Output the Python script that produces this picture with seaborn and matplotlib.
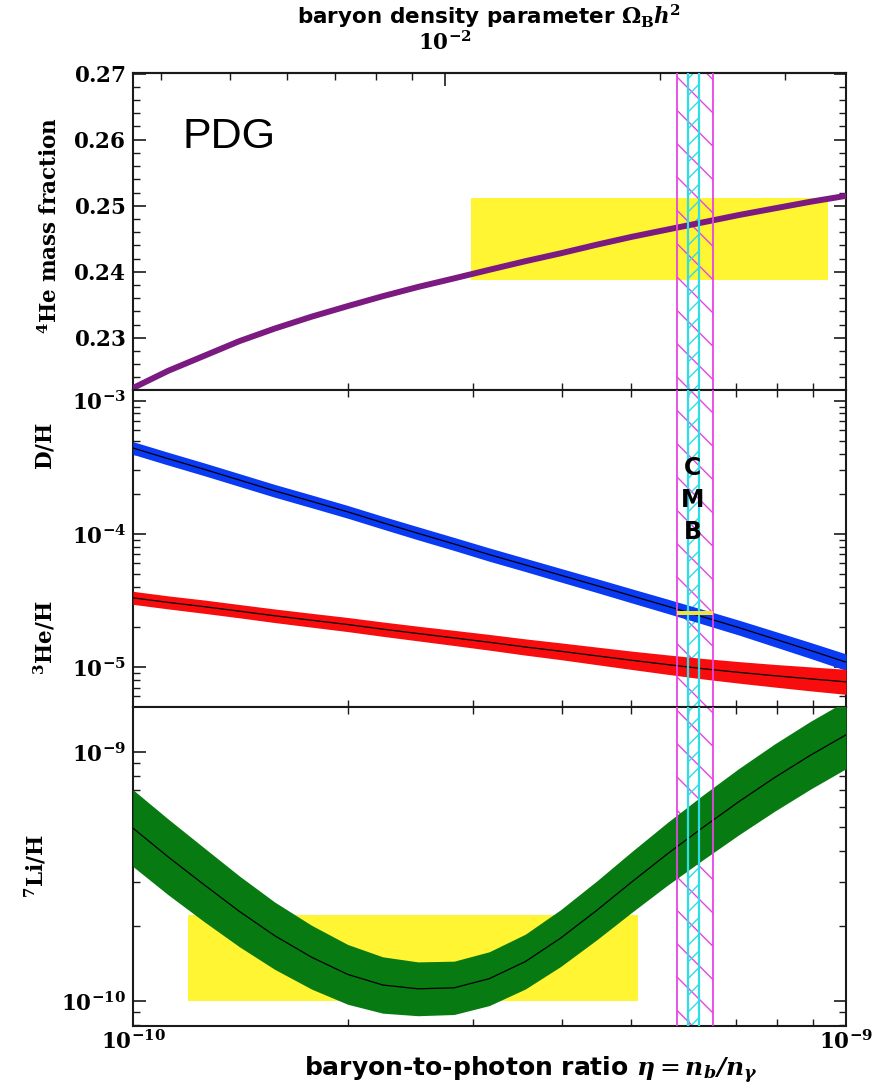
import numpy as np
import pandas as pd
import matplotlib
matplotlib.use("Agg")
import matplotlib.pyplot as plt
import seaborn as sns
from matplotlib.ticker import MultipleLocator, FuncFormatter, NullFormatter, LogLocator, FixedLocator
from matplotlib.mathtext import MathTextParser

# ---------------- data ----------------
eta10 = [1.00, 1.12, 1.26, 1.41, 1.58, 1.78, 2.00, 2.24, 2.51, 2.82, 3.16,
         3.55, 3.98, 4.47, 5.01, 5.62, 6.31, 7.08, 7.94, 8.91, 10.0]
he4_mass_fraction = [0.2224, 0.2250, 0.2273, 0.2295, 0.2314, 0.2332, 0.2348, 0.2363, 0.2377, 0.2390, 0.2403,
                     0.2416, 0.2428, 0.2441, 0.2453, 0.2464, 0.2475, 0.2486, 0.2496, 0.2506, 0.2515]
dh_ratio = [4.40e-4, 3.66e-4, 3.04e-4, 2.53e-4, 2.10e-4, 1.75e-4, 1.46e-4, 1.21e-4, 1.007e-4, 8.38e-5, 6.97e-5,
            5.83e-5, 4.88e-5, 4.08e-5, 3.41e-5, 2.85e-5, 2.37e-5, 1.97e-5, 1.62e-5, 1.33e-5, 1.085e-5]
dh_halfwidth_dex = [0.048, 0.048, 0.048, 0.048, 0.048, 0.048, 0.048, 0.048, 0.049, 0.049, 0.050,
                    0.050, 0.051, 0.052, 0.053, 0.054, 0.055, 0.056, 0.058, 0.060, 0.062]
he3_ratio = [3.30e-5, 3.05e-5, 2.83e-5, 2.62e-5, 2.42e-5, 2.24e-5, 2.08e-5, 1.92e-5, 1.78e-5, 1.65e-5, 1.53e-5,
             1.41e-5, 1.31e-5, 1.21e-5, 1.12e-5, 1.04e-5, 9.68e-6, 9.09e-6, 8.58e-6, 8.13e-6, 7.72e-6]
he3_halfwidth_dex = [0.049, 0.049, 0.050, 0.050, 0.051, 0.052, 0.053, 0.054, 0.055, 0.057, 0.059,
                     0.061, 0.063, 0.066, 0.069, 0.073, 0.077, 0.081, 0.085, 0.090, 0.094]
li7_ratio = [4.94e-10, 3.79e-10, 2.92e-10, 2.29e-10, 1.83e-10, 1.50e-10, 1.28e-10, 1.16e-10, 1.12e-10, 1.13e-10,
             1.23e-10, 1.44e-10, 1.79e-10, 2.31e-10, 3.01e-10, 3.90e-10, 4.99e-10, 6.32e-10, 7.88e-10,
             9.68e-10, 1.17e-9]
li7_halfwidth_dex = [0.154, 0.152, 0.148, 0.142, 0.135, 0.128, 0.120, 0.113, 0.108, 0.107, 0.108,
                     0.110, 0.114, 0.118, 0.122, 0.126, 0.130, 0.133, 0.135, 0.136, 0.136]

he4_obs_eta = [2.98e-10, 9.44e-10]
he4_obs_range = [0.2388, 0.2511]
dh_obs_eta = [5.79e-10, 6.51e-10]
dh_obs_range = [2.47e-5, 2.63e-5]
li7_obs_eta = [1.194e-10, 5.11e-10]
li7_obs_range = [1.0e-10, 2.22e-10]
cmb_wide_eta = [5.79e-10, 6.51e-10]
cmb_narrow_eta = [6.00e-10, 6.22e-10]
eta_per_omega = 2.739e-8   # eta = 2.739e-8 * Omega_B h^2
omega_major_ticks = [1e-2]
omega_minor_ticks = [4e-3, 5e-3, 6e-3, 7e-3, 8e-3, 9e-3, 2e-2, 3e-2]
eta_major_ticks = [1e-10, 1e-9]
eta_minor_ticks = [2e-10, 3e-10, 4e-10, 5e-10, 6e-10, 7e-10, 8e-10, 9e-10]

# ---------------- styling ----------------
sns.set_theme(style="ticks")
plt.rcParams.update({
    "font.family": ["DejaVu Sans"],
    "mathtext.fontset": "dejavuserif",
    "text.color": "black",
    "axes.linewidth": 1.5,
    "axes.edgecolor": "#1a1a1a",
    "xtick.direction": "in", "ytick.direction": "in",
    "xtick.major.size": 9, "ytick.major.size": 9,
    "xtick.minor.size": 5, "ytick.minor.size": 5,
    "xtick.major.width": 1.2, "ytick.major.width": 1.2,
    "xtick.minor.width": 1.0, "ytick.minor.width": 1.0,
    "xtick.color": "#1a1a1a", "ytick.color": "#1a1a1a",
    "xtick.labelcolor": "black", "ytick.labelcolor": "black",
    "hatch.linewidth": 1.0,
})


def safe_math(s, fallback):
    try:
        MathTextParser("path").parse(s, dpi=100)
        return s
    except Exception:
        return fallback


PURPLE = "#7b1a80"
BLUE = "#0a3af2"
RED = "#f70d0d"
GREEN = "#087a12"
YELLOW = "#fff533"
MAGENTA = "#e445e4"
CYAN = "#2fdde6"
TICKFS = 15.5

df = pd.DataFrame({
    "eta": np.array(eta10) * 1e-10,
    "he4": he4_mass_fraction,
    "dh": dh_ratio, "dh_w": dh_halfwidth_dex,
    "he3": he3_ratio, "he3_w": he3_halfwidth_dex,
    "li7": li7_ratio, "li7_w": li7_halfwidth_dex,
})

W, H = 877, 1088
fig = plt.figure(figsize=(W / 100, H / 100), dpi=100)
L = 133 / W
AW = (846 - 133) / W
ax1 = fig.add_axes([L, 1 - 390 / H, AW, 317 / H])
ax2 = fig.add_axes([L, 1 - 706.5 / H, AW, 316.5 / H])
ax3 = fig.add_axes([L, 1 - 1025.5 / H, AW, 319 / H])

bold_num = FuncFormatter(lambda v, p: r"$\mathbf{%.2f}$" % v)


def log_fmt(v, p):
    e = int(round(np.log10(v)))
    return r"$\mathbf{10^{%d}}$" % e


log_formatter = FuncFormatter(log_fmt)

for ax in (ax1, ax2, ax3):
    ax.set_xscale("log")
    ax.set_xlim(1e-10, 1e-9)
    ax.xaxis.set_major_locator(FixedLocator(eta_major_ticks))
    ax.xaxis.set_minor_locator(FixedLocator(eta_minor_ticks))
    ax.xaxis.set_minor_formatter(NullFormatter())
    # CMB bands
    ax.axvspan(*cmb_wide_eta, facecolor="none", edgecolor=MAGENTA, hatch="\\", lw=0, zorder=2)
    ax.axvspan(*cmb_narrow_eta, facecolor="none", edgecolor=CYAN, hatch="//", lw=0, zorder=2)
    for xv in cmb_wide_eta:
        ax.axvline(xv, color=MAGENTA, lw=1.3, zorder=4)
    for xv in cmb_narrow_eta:
        ax.axvline(xv, color=CYAN, lw=1.6, zorder=4)
    ax.tick_params(which="both", right=True, top=True, labelsize=TICKFS)
    ax.tick_params(axis="y", which="major", pad=5)

# ---- Panel 1: He-4 ----
ax1.fill_between(he4_obs_eta, he4_obs_range[0], he4_obs_range[1], color=YELLOW, lw=0, zorder=1)
sns.lineplot(data=df, x="eta", y="he4", ax=ax1, color=PURPLE, lw=4.3, estimator=None, zorder=3)
ax1.set_ylim(0.2221, 0.2701)
ax1.yaxis.set_major_locator(MultipleLocator(0.01))
ax1.yaxis.set_minor_locator(MultipleLocator(0.002))
ax1.yaxis.set_major_formatter(bold_num)
ax1.tick_params(top=False, which="both")
ax1.tick_params(labelbottom=False)
ax1.text(1.175e-10, 0.2587, "PDG", fontsize=31, family=["Liberation Sans", "DejaVu Sans"],
         va="baseline", ha="left", color="black")

sec = ax1.secondary_xaxis("top", functions=(lambda e: e / eta_per_omega, lambda o: o * eta_per_omega))
sec.xaxis.set_major_locator(FixedLocator(omega_major_ticks))
sec.xaxis.set_minor_locator(FixedLocator(omega_minor_ticks))
sec.xaxis.set_major_formatter(log_formatter)
sec.xaxis.set_minor_formatter(NullFormatter())
sec.tick_params(which="both", direction="in", labelsize=TICKFS, pad=14, labelcolor="black")
sec.tick_params(which="major", length=9, width=1.2)
sec.tick_params(which="minor", length=5, width=1.0)

# ---- Panel 2: D/H and He-3/H ----
for col, wcol, colr in (("dh", "dh_w", BLUE), ("he3", "he3_w", RED)):
    lo = df[col] * 10 ** (-df[wcol])
    hi = df[col] * 10 ** (df[wcol])
    ax2.fill_between(df["eta"], lo, hi, color=colr, lw=0, zorder=3)
    sns.lineplot(data=df, x="eta", y=col, ax=ax2, color="black", lw=0.9, estimator=None, zorder=3.5)
ax2.fill_between(dh_obs_eta, dh_obs_range[0], dh_obs_range[1], color="#f2e33a", lw=0, zorder=4.5)
ax2.set_yscale("log")
ax2.set_ylim(5.04e-6, 1.2e-3)
ax2.yaxis.set_major_locator(LogLocator(base=10))
ax2.yaxis.set_minor_locator(LogLocator(base=10, subs=np.arange(2, 10)))
ax2.yaxis.set_major_formatter(log_formatter)
ax2.yaxis.set_minor_formatter(NullFormatter())
ax2.tick_params(labelbottom=False)
ax2.text(6.1e-10, 1.8e-4, "C\nM\nB", ha="center", va="center", fontsize=17, color="black",
         fontweight="bold", linespacing=1.42, zorder=6)

# ---- Panel 3: Li-7/H ----
ax3.fill_between(li7_obs_eta, li7_obs_range[0], li7_obs_range[1], color=YELLOW, lw=0, zorder=1)
lo = df["li7"] * 10 ** (-df["li7_w"])
hi = df["li7"] * 10 ** (df["li7_w"])
ax3.fill_between(df["eta"], lo, hi, color=GREEN, lw=0, zorder=3)
sns.lineplot(data=df, x="eta", y="li7", ax=ax3, color="black", lw=0.9, estimator=None, zorder=3.5)
ax3.set_yscale("log")
ax3.set_ylim(7.98e-11, 1.52e-9)
ax3.yaxis.set_major_locator(LogLocator(base=10))
ax3.yaxis.set_minor_locator(LogLocator(base=10, subs=np.arange(2, 10)))
ax3.yaxis.set_major_formatter(log_formatter)
ax3.yaxis.set_minor_formatter(NullFormatter())
ax3.xaxis.set_major_formatter(log_formatter)
ax3.tick_params(axis="x", which="major", pad=3)

for ax in (ax1, ax2, ax3):
    ax.set_xlabel("")
    ax.set_ylabel("")
    ax.xaxis.label.set_visible(False)
    ax.yaxis.label.set_visible(False)

# ---- labels ----
YLFS = 15.5
fig.text(49 / W, 1 - 226 / H, r"$^{\mathbf{4}}\mathbf{He\ mass\ fraction}$", rotation=90,
         ha="center", va="center", fontsize=YLFS, color="black")
fig.text(45 / W, 1 - 446 / H, r"$\mathbf{D/H}$", rotation=90, ha="center", va="center", fontsize=YLFS,
         color="black")
fig.text(44 / W, 1 - 638 / H, r"$^{\mathbf{3}}\mathbf{He/H}$", rotation=90, ha="center", va="center",
         fontsize=YLFS, color="black")
fig.text(35 / W, 1 - 866 / H, r"$^{\mathbf{7}}\mathbf{Li/H}$", rotation=90, ha="center", va="center",
         fontsize=YLFS, color="black")

top_math = safe_math(r"$\mathbf{\Omega}_{\mathbf{B}}\mathbfit{h}^{\mathbf{2}}$", r"$\Omega_{\rm B}h^2$")
fig.text(489 / W, 1 - 16 / H, "baryon density parameter " + top_math, ha="center", va="center",
         fontsize=15.5, fontweight="bold", color="black")
bot_math = safe_math(r"$\mathbfit{\eta} = \mathbfit{n_b/n_\gamma}$", r"$\eta = n_b/n_\gamma$")
fig.text(531 / W, 1 - 1070 / H, "baryon-to-photon ratio " + bot_math, ha="center", va="center",
         fontsize=18, fontweight="bold", color="black")

fig.savefig("out.png", dpi=100)
